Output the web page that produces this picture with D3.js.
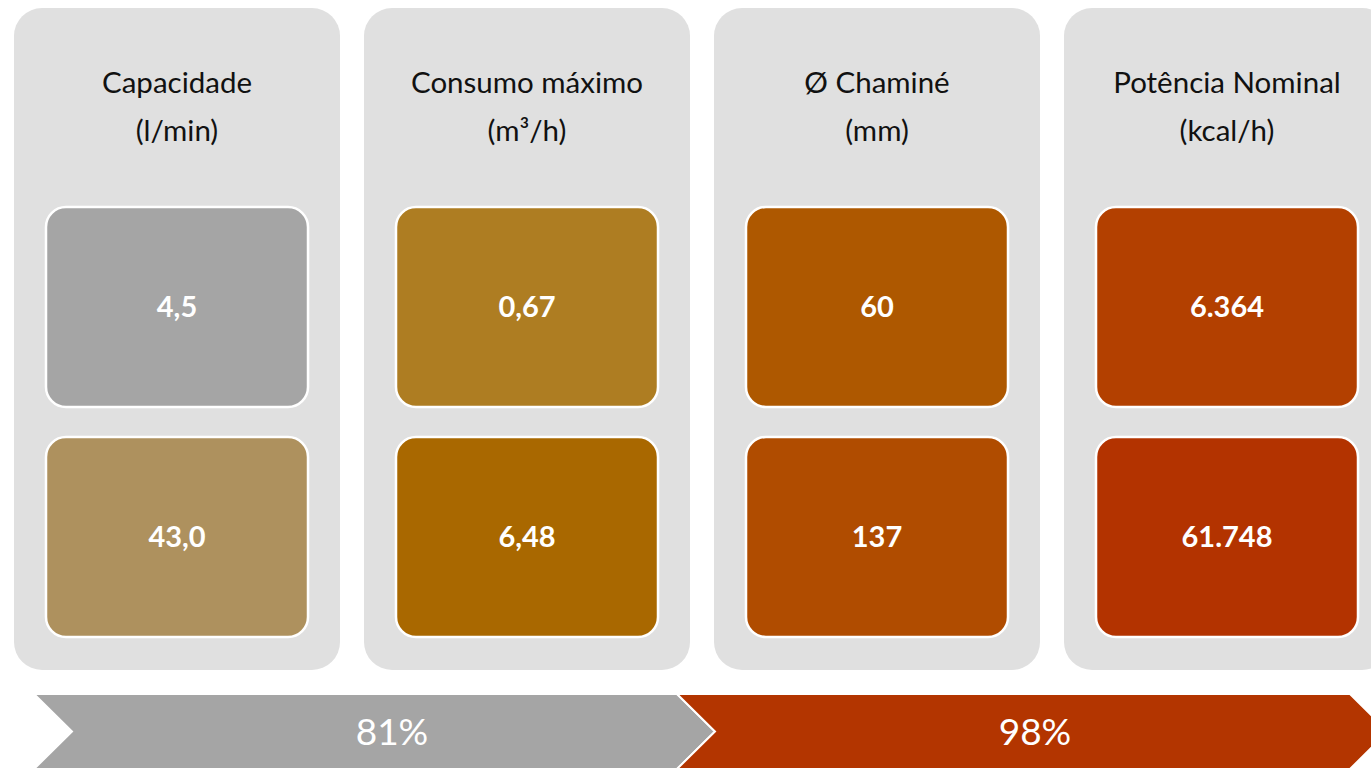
<!DOCTYPE html>
<html>
<head>
<meta charset="utf-8">
<script src="https://cdn.jsdelivr.net/npm/d3@7"></script>
<style>
  html, body { margin: 0; padding: 0; background: #fff; overflow: hidden; }
  svg { display: block; }
</style>
</head>
<body>
<div id="chart"></div>
<script>
// data
var titles = ["Capacidade", "Consumo máximo", "Ø Chaminé", "Potência Nominal"];
var units = ["(l/min)", "(m³/h)", "(mm)", "(kcal/h)"];
var topValues = ["4,5", "0,67", "60", "6.364"];
var bottomValues = ["43,0", "6,48", "137", "61.748"];
var topColors = ["#a5a5a5", "#ae7d22", "#ae5800", "#b34000"];
var bottomColors = ["#ae915e", "#a96800", "#b04c00", "#b33300"];
var percents = ["81%", "98%"];
var percentColors = ["#a5a5a5", "#b33500"];

var width = 1371, height = 768,
	panel_top = 8, panel_bottom = 670,
	box_inset = 32,
	arrow_top = 694, arrow_h = 75, arrow_tip = 38,
	arrow_edges = [34, 677, 1350], // left edges of the chevrons and the right end
	font = "Lato, 'Open Sans', sans-serif";

var svg = d3.select("#chart").append("svg")
	.attr("width", width)
	.attr("height", height);

// column and row scales
var X = d3.scaleBand().domain(d3.range(titles.length)).range([14, 1390]).paddingInner(24/350);
var Y = d3.scaleBand().domain(["top", "bottom"]).range([207, 637]).paddingInner(30/230);

var cols = svg.selectAll(".col").data(titles).enter().append("g")
	.attr("class", "col")
	.attr("transform", function(d, i){ return "translate(" + X(i) + ",0)"; });

cols.append("rect")
	.attr("y", panel_top)
	.attr("width", X.bandwidth())
	.attr("height", panel_bottom - panel_top)
	.attr("rx", 28)
	.attr("fill", "#e0e0e0");

cols.append("text")
	.attr("x", X.bandwidth() / 2)
	.attr("y", 93)
	.attr("text-anchor", "middle")
	.style("font-family", font)
	.style("font-size", "29.5px")
	.attr("fill", "#111")
	.text(function(d){ return d; });

cols.append("text")
	.attr("x", X.bandwidth() / 2)
	.attr("y", 141)
	.attr("text-anchor", "middle")
	.style("font-family", font)
	.style("font-size", "29.5px")
	.attr("fill", "#111")
	.text(function(d, i){ return units[i]; });

// value boxes
var rows = [
	{ key: "top", values: topValues, colors: topColors },
	{ key: "bottom", values: bottomValues, colors: bottomColors }
];

rows.forEach(function(r){
	cols.append("rect")
		.attr("x", box_inset)
		.attr("y", Y(r.key))
		.attr("width", X.bandwidth() - 2 * box_inset)
		.attr("height", Y.bandwidth())
		.attr("rx", 20)
		.attr("fill", function(d, i){ return r.colors[i]; })
		.attr("stroke", "#fff")
		.attr("stroke-width", 2.5);

	cols.append("text")
		.attr("x", X.bandwidth() / 2)
		.attr("y", Y(r.key) + Y.bandwidth() / 2)
		.attr("dy", "0.35em")
		.attr("text-anchor", "middle")
		.style("font-family", font)
		.style("font-size", "29px")
		.style("font-weight", "bold")
		.attr("fill", "#fff")
		.text(function(d, i){ return r.values[i]; });
});

// chevron arrows at the bottom
function chevron(x0, x1){
	var ym = arrow_top + arrow_h / 2, yb = arrow_top + arrow_h;
	return "M" + x0 + "," + arrow_top + "L" + x1 + "," + arrow_top + "L" + (x1 + arrow_tip) + "," + ym +
		"L" + x1 + "," + yb + "L" + x0 + "," + yb + "L" + (x0 + arrow_tip) + "," + ym + "Z";
}

var arrows = svg.selectAll(".arrow").data(percents).enter().append("g").attr("class", "arrow");

arrows.append("path")
	.attr("d", function(d, i){ return chevron(arrow_edges[i], arrow_edges[i + 1]); })
	.attr("fill", function(d, i){ return percentColors[i]; })
	.attr("stroke", "#fff")
	.attr("stroke-width", 2);

arrows.append("text")
	.attr("x", function(d, i){ return arrow_edges[i] + 358; })
	.attr("y", arrow_top + arrow_h / 2)
	.attr("dy", "0.36em")
	.attr("text-anchor", "middle")
	.style("font-family", font)
	.style("font-size", "37px")
	.attr("fill", "#fff")
	.text(function(d){ return d; });
</script>
</body>
</html>
